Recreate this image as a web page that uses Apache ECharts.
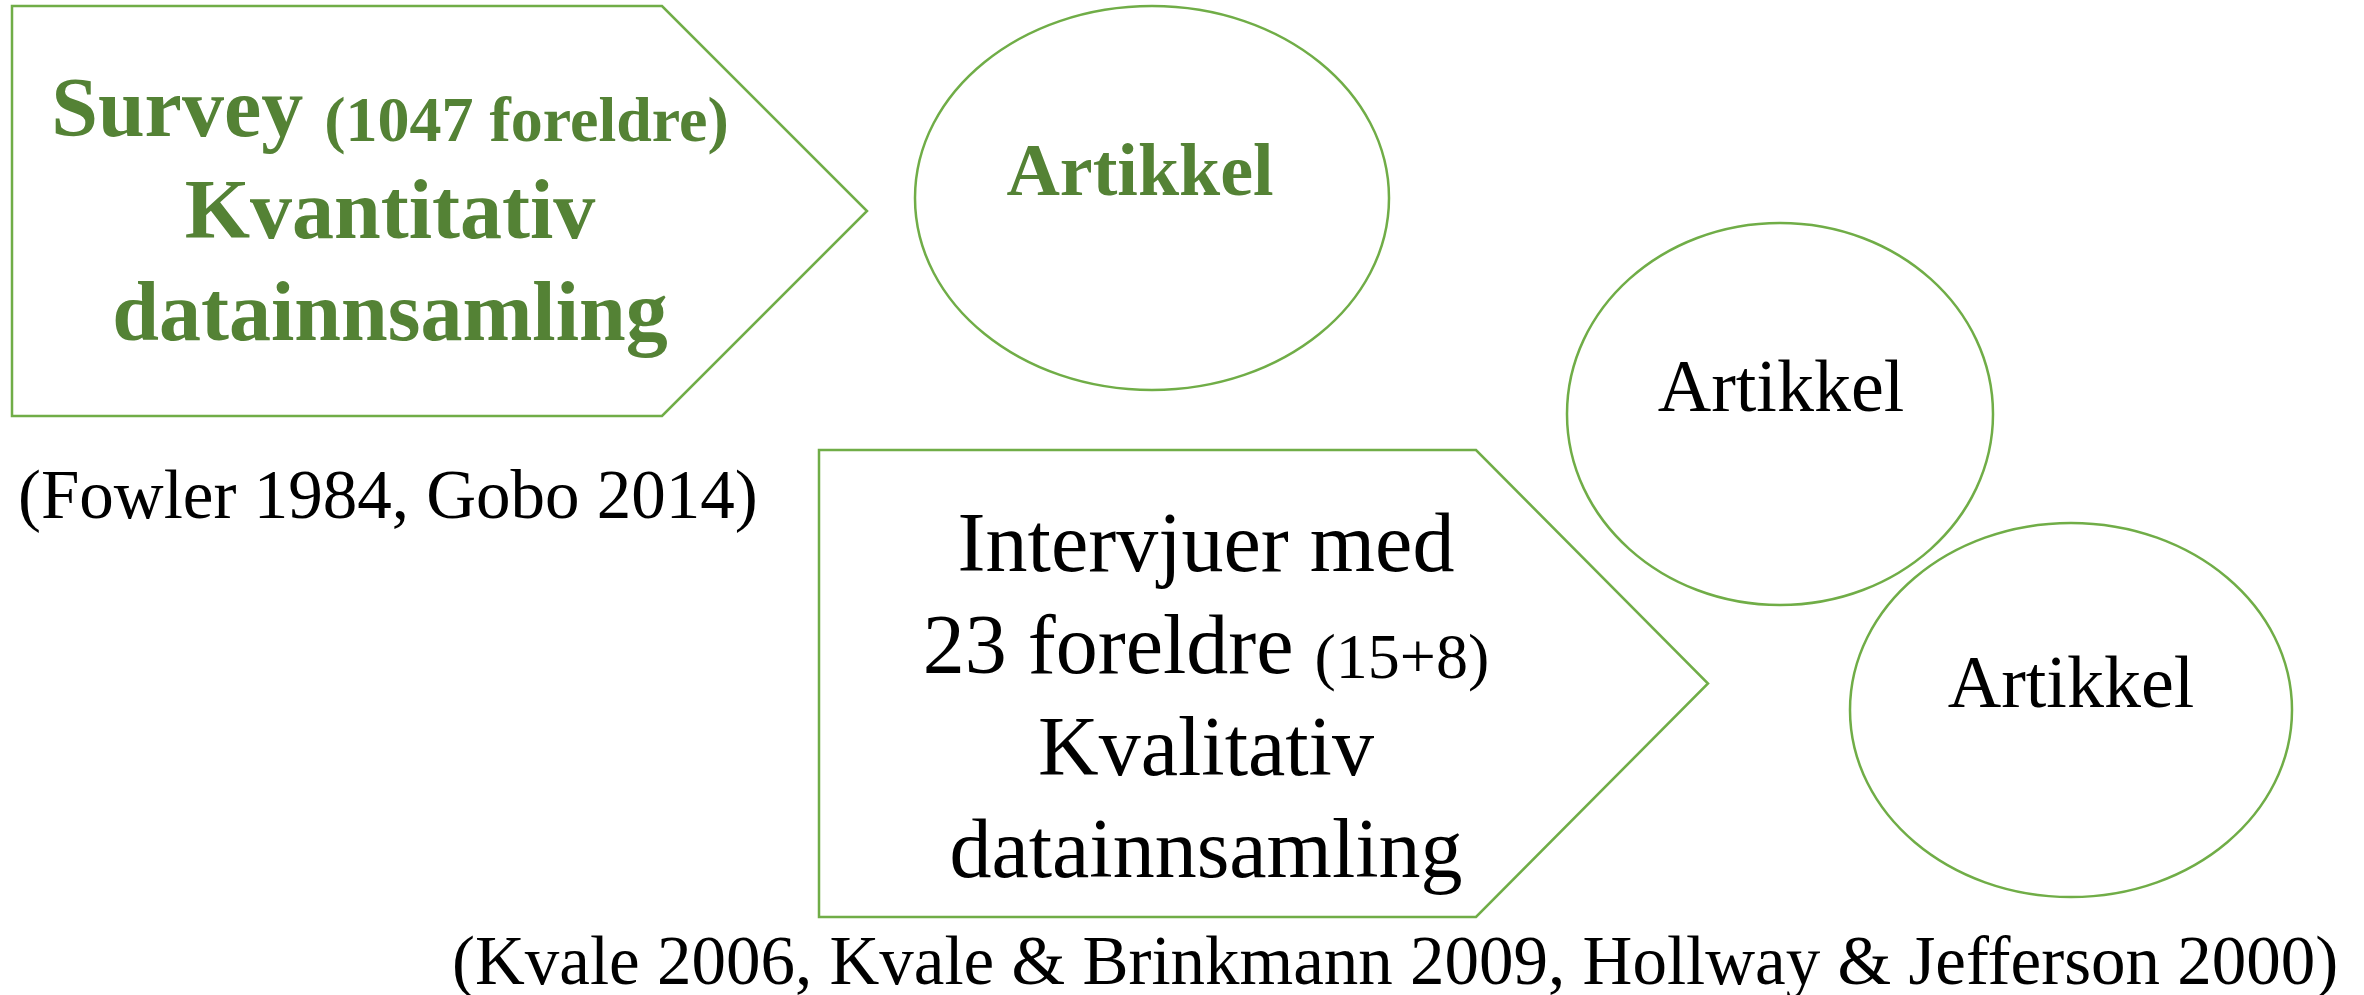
<!DOCTYPE html>
<html>
<head>
<meta charset="utf-8">
<script src="https://cdn.jsdelivr.net/npm/echarts@6/dist/echarts.min.js"></script>
<style>
  html, body { margin: 0; padding: 0; background: #ffffff; }
  #chart { width: 2364px; height: 995px; }
</style>
</head>
<body>
<div id="chart"></div>
<script>
// ---------------- content (text of the diagram) ----------------
const surveyLines = [['Survey', '(1047 foreldre)'], ['Kvantitativ'], ['datainnsamling']];
const interviewLines = [['Intervjuer med'], ['23 foreldre', '(15+8)'], ['Kvalitativ'], ['datainnsamling']];
const articleLabels = ['Artikkel', 'Artikkel', 'Artikkel'];
const citationTexts = [
  '(Fowler 1984, Gobo 2014)',
  '(Kvale 2006, Kvale & Brinkmann 2009, Hollway & Jefferson 2000)'
];

// ---------------- layout (diagram units on hidden axes) ----------------
// arrow boxes: [left, top, rectRight, tipX, bottom, textCenterX, firstBaseline]
const arrowLayout = [
  [12, 6, 662, 867, 416, 390, 140],
  [819, 450, 1476, 1708, 917, 1206, 575]
];
// ellipses: [cx, cy, rx, ry, labelCenterX]
const ellipseLayout = [
  [1152, 198, 237, 192, 1140],
  [1780, 414, 213, 191, 1781],
  [2071, 710, 221, 187, 2071]
];
// citations: [leftX, baseline]
const citationLayout = [
  [18, 521],
  [452, 987]
];

// ---------------- styles ----------------
const FONT = '"Liberation Serif", "Times New Roman", Times, serif';
const OUTLINE = '#70AD47';
const GREEN_TEXT = '#548235';
const LINE_STEP = 102;
const BIG = 84, SMALL = 64, ART = 74, CIT = 69;
const MID = 0.305; // baseline offset (fraction of font size) below the middle of the em box
const arrowStyles = [
  { fill: GREEN_TEXT, weight: 'bold', lines: surveyLines },
  { fill: '#000000', weight: 'normal', lines: interviewLines }
];
const ellipseStyles = [
  { fill: GREEN_TEXT, weight: 'bold' },
  { fill: '#000000', weight: 'normal' },
  { fill: '#000000', weight: 'normal' }
];

function lineText(parts, st, x, baseline) {
  const y = baseline - MID * BIG;
  const base = {
    fill: st.fill, fontFamily: FONT, fontWeight: st.weight, fontSize: BIG,
    lineHeight: BIG, align: 'center', verticalAlign: 'middle',
    textAlign: 'center', textVerticalAlign: 'middle'
  };
  if (parts.length === 1) {
    return { type: 'text', x: x, y: y, style: Object.assign({ text: parts[0] }, base) };
  }
  return {
    type: 'text', x: x, y: y,
    style: Object.assign({
      text: '{a|' + parts[0] + '} {b|' + parts[1] + '}',
      rich: {
        a: { fill: st.fill, fontFamily: FONT, fontWeight: st.weight, fontSize: BIG, lineHeight: BIG, verticalAlign: 'bottom' },
        b: { fill: st.fill, fontFamily: FONT, fontWeight: st.weight, fontSize: SMALL, lineHeight: 71, verticalAlign: 'bottom' }
      }
    }, base)
  };
}

function renderArrow(params, api) {
  const i = params.dataIndex;
  const v = k => api.value(k);
  const left = v(0), top = v(1), rr = v(2), tip = v(3), bottom = v(4), tx = v(5), b0 = v(6);
  const pts = [
    api.coord([left, top]), api.coord([rr, top]), api.coord([tip, (top + bottom) / 2]),
    api.coord([rr, bottom]), api.coord([left, bottom])
  ];
  const st = arrowStyles[i];
  const children = [{
    type: 'polygon', shape: { points: pts },
    style: { fill: '#ffffff', stroke: OUTLINE, lineWidth: 2.5, lineJoin: 'miter' }
  }];
  st.lines.forEach((parts, j) => {
    const c = api.coord([tx, b0 + j * LINE_STEP]);
    children.push(lineText(parts, st, c[0], c[1]));
  });
  return { type: 'group', children: children };
}

function renderEllipse(params, api) {
  const i = params.dataIndex;
  const c = api.coord([api.value(0), api.value(1)]);
  const s = api.size([api.value(2), api.value(3)]);
  const lc = api.coord([api.value(4), api.value(1)]);
  const st = ellipseStyles[i];
  return {
    type: 'group',
    children: [
      { type: 'ellipse', shape: { cx: c[0], cy: c[1], rx: s[0], ry: s[1] },
        style: { fill: '#ffffff', stroke: OUTLINE, lineWidth: 2.5 } },
      { type: 'text', x: lc[0], y: lc[1] - MID * ART,
        style: { text: articleLabels[i], fill: st.fill, fontFamily: FONT, fontWeight: st.weight,
                 fontSize: ART, lineHeight: ART, align: 'center', verticalAlign: 'middle',
                 textAlign: 'center', textVerticalAlign: 'middle' } }
    ]
  };
}

function renderCitation(params, api) {
  const i = params.dataIndex;
  const c = api.coord([api.value(0), api.value(1)]);
  return {
    type: 'text', x: c[0], y: c[1] - MID * CIT,
    style: { text: citationTexts[i], fill: '#000000', fontFamily: FONT, fontWeight: 'normal',
             fontSize: CIT, lineHeight: CIT, align: 'left', verticalAlign: 'middle',
             textAlign: 'left', textVerticalAlign: 'middle' }
  };
}

const chart = echarts.init(document.getElementById('chart'), null, { renderer: 'canvas' });
chart.setOption({
  backgroundColor: '#ffffff',
  animation: false,
  grid: { left: 0, right: 0, top: 0, bottom: 0 },
  xAxis: { type: 'value', min: 0, max: 2364, show: false },
  yAxis: { type: 'value', min: 0, max: 995, inverse: true, show: false },
  series: [
    { type: 'custom', renderItem: renderEllipse, data: ellipseLayout, encode: { x: 0, y: 1 }, clip: false, silent: true, z: 2 },
    { type: 'custom', renderItem: renderArrow, data: arrowLayout, encode: { x: 0, y: 1 }, clip: false, silent: true, z: 1 },
    { type: 'custom', renderItem: renderCitation, data: citationLayout, encode: { x: 0, y: 1 }, clip: false, silent: true, z: 3 }
  ]
});
</script>
</body>
</html>
